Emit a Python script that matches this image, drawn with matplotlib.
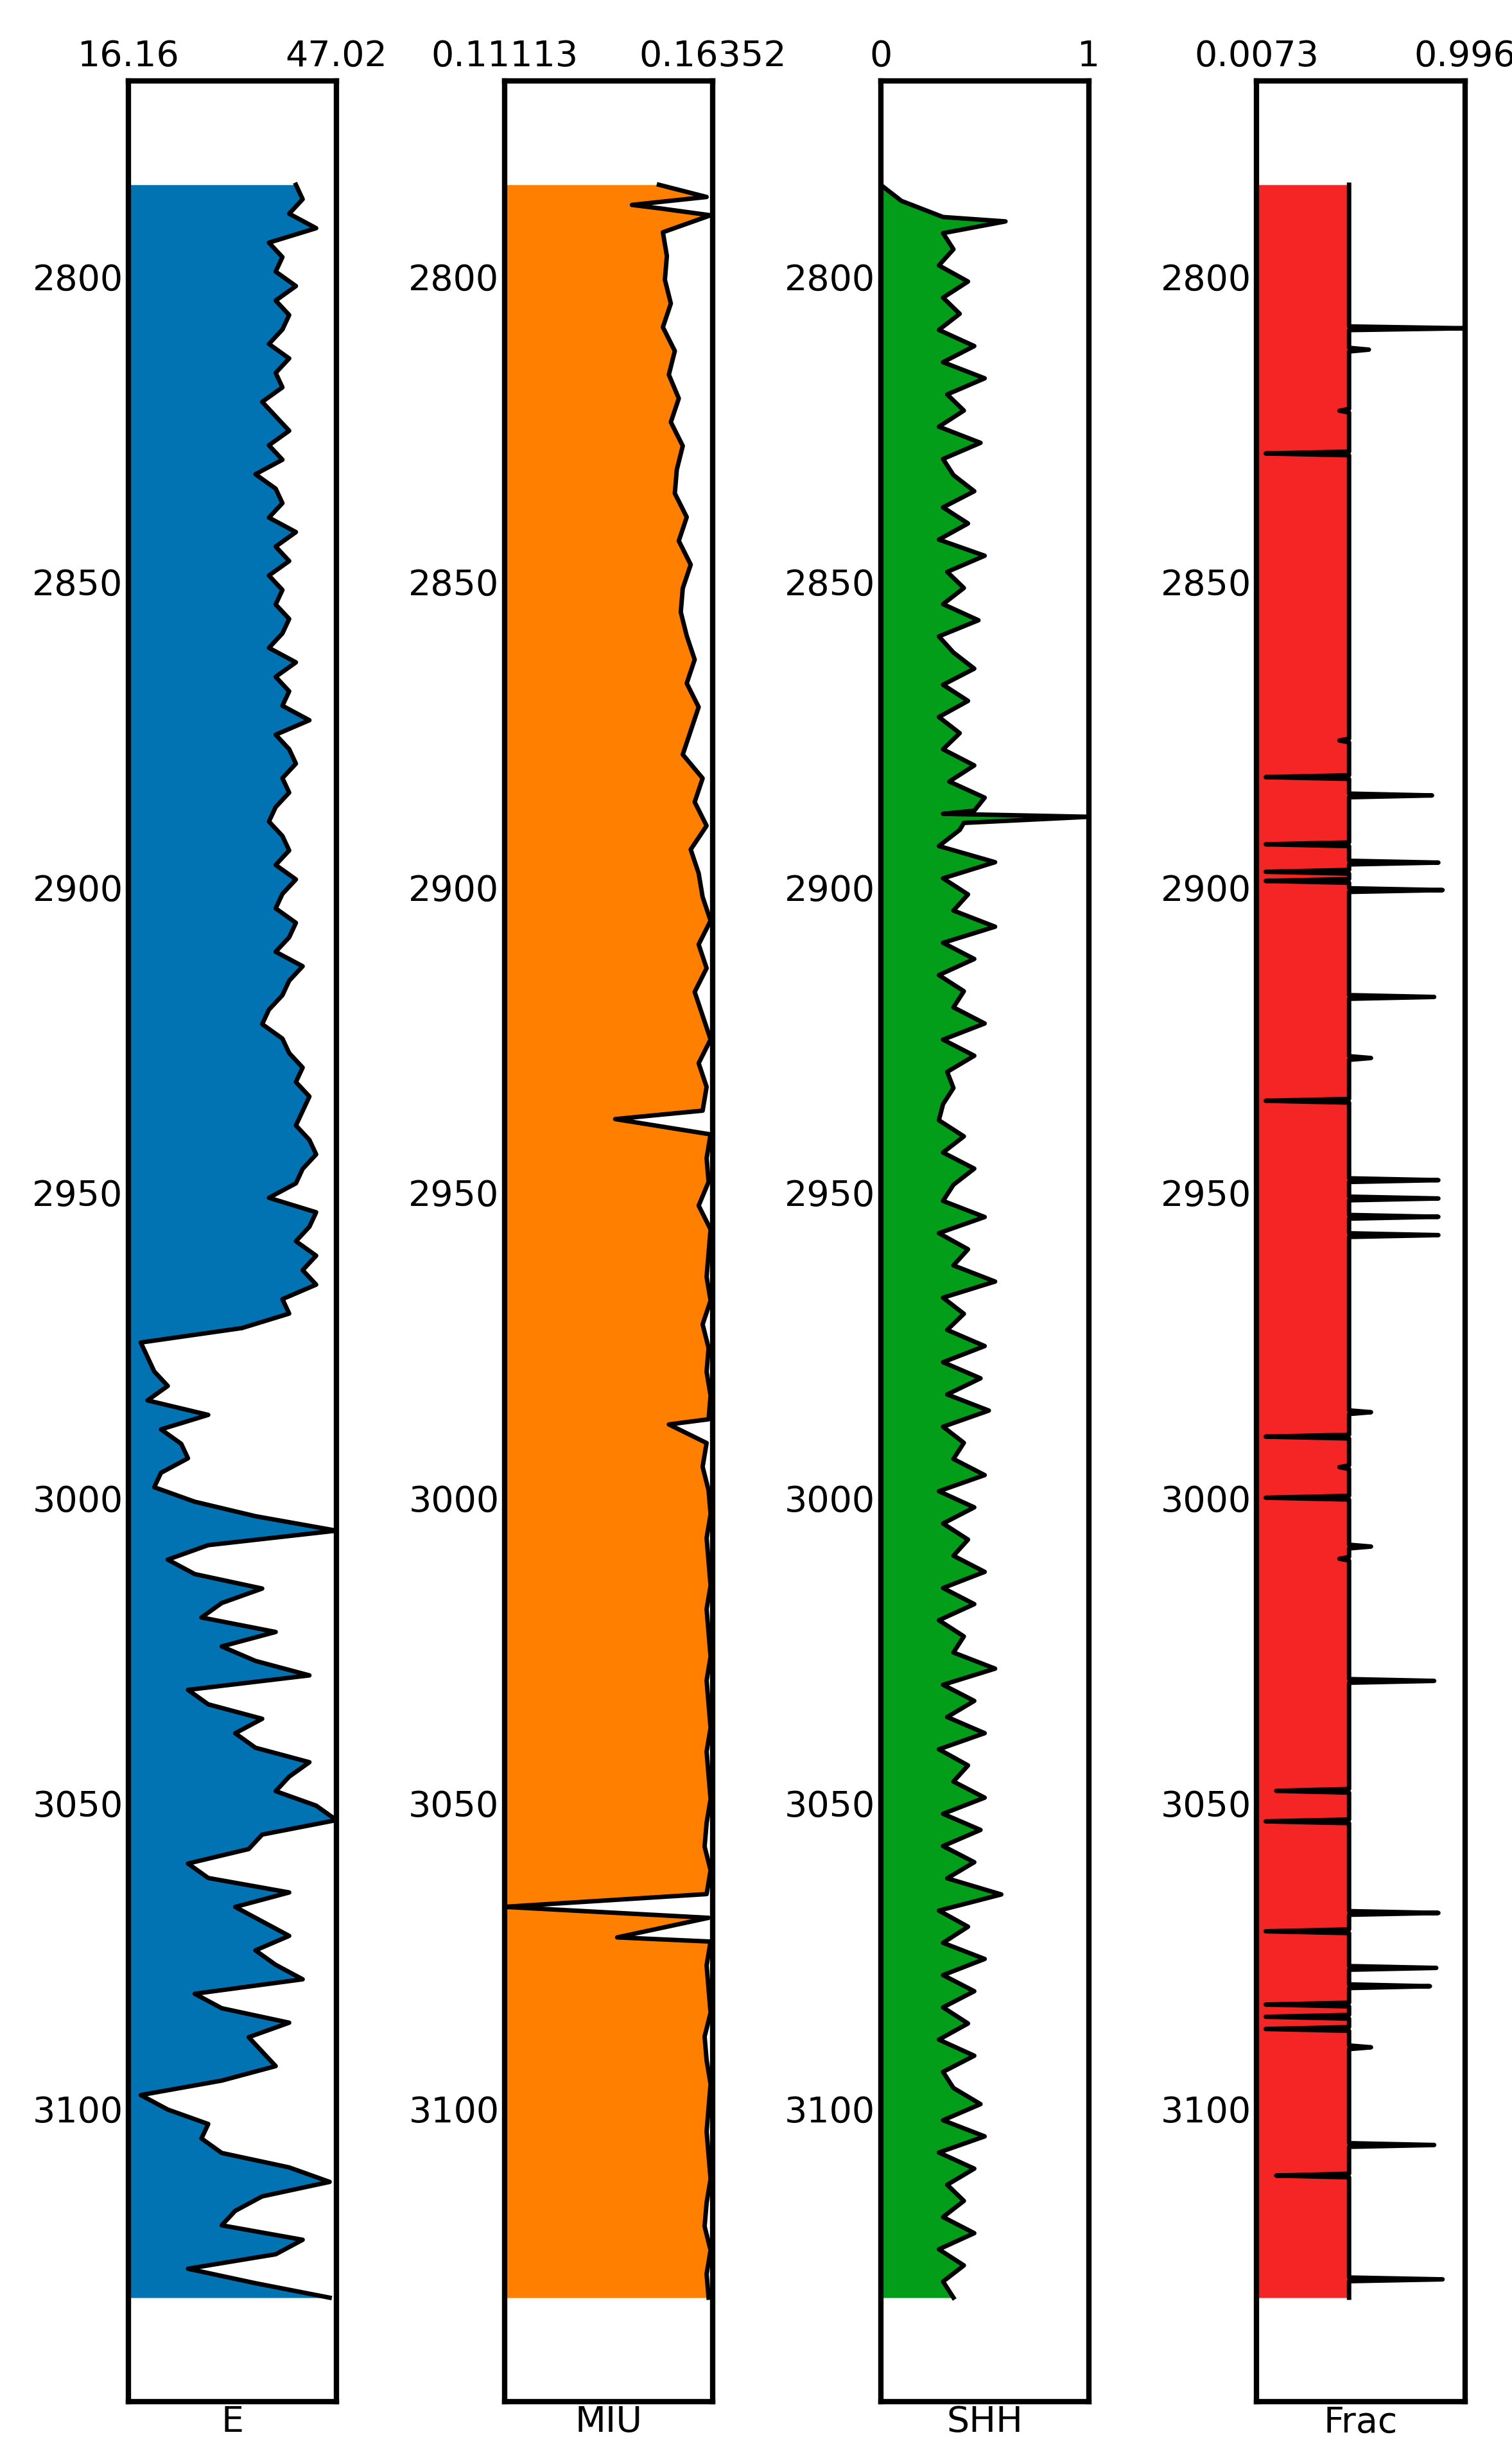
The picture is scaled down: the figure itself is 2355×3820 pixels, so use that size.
import numpy as np
import matplotlib
matplotlib.use("Agg")
import matplotlib.pyplot as plt

top_depth, bot_depth = 2785, 3131

E = [41,42,40,44,37,39,38,41,38,40,39,37,40,38,39,36,38,40,37,39,35,38,39,37,41,38,40,37,39,38,
     40,39,37,41,38,40,39,43,38,40,41,39,40,38,37,39,40,38,41,39,38,41,40,38,42,40,39,37,36,39,
     40,42,41,43,42,41,43,44,42,41,37,44,43,41,44,42,44,39,40,33,18,19,20,22,19,28,21,24,25,21,
     20,26,35,47,28,22,26,36,30,27,38,30,35,43,25,28,36,32,35,43,40,38,44,47,36,34,25,28,40,32,
     36,40,35,38,42,26,30,40,34,36,38,30,18,22,28,27,30,40,46,36,32,30,42,38,25,35,46]

MIU_base = [0.150,0.1505,0.151,0.152,0.1515,0.153,0.151,0.154,0.1525,0.155,0.153,0.156,0.1545,0.154,0.157,
            0.155,0.158,0.156,0.1555,0.157,0.159,0.157,0.160,0.158,0.156,0.161,0.159,0.162,0.158,0.160,
            0.161,0.163,0.160,0.162,0.159,0.161,0.163,0.160,0.162,0.161,0.163,0.162,0.1625,0.160,0.163,
            0.1625,0.162,0.163,0.161,0.1625,0.162,0.163,0.1625,0.162,0.161,0.1625,0.163,0.162,0.1625,0.163,
            0.162,0.1625,0.163,0.162,0.1625,0.163,0.162,0.1625,0.163,0.162,0.1615,0.163,0.162,0.1625,0.163,
            0.162,0.1625,0.163,0.1615,0.162,0.163,0.1625,0.162,0.1625,0.163,0.162,0.1615,0.163,0.162,0.1625]
MIU_spike_depth = [2787.0, 2788.3, 2790.0, 2938.0, 2988.0, 3067.0, 3072.0]
MIU_spike_val = [0.1620, 0.1432, 0.1630, 0.1390, 0.1525, 0.1111, 0.1395]

SHH = [0.0,0.1,0.3,0.3,0.35,0.28,0.42,0.3,0.38,0.28,0.45,0.3,0.5,0.32,0.4,0.28,0.48,0.3,0.35,0.45,
       0.3,0.42,0.28,0.5,0.32,0.4,0.3,0.47,0.28,0.35,0.45,0.3,0.42,0.28,0.38,0.3,0.45,0.33,0.5,0.3,
       0.38,0.28,0.55,0.3,0.42,0.35,0.55,0.3,0.45,0.28,0.4,0.35,0.5,0.3,0.45,0.32,0.35,0.3,0.28,0.4,
       0.3,0.45,0.35,0.3,0.5,0.28,0.42,0.35,0.55,0.3,0.4,0.32,0.5,0.3,0.48,0.32,0.52,0.3,0.4,0.35,
       0.5,0.28,0.45,0.3,0.42,0.35,0.5,0.3,0.45,0.28,0.4,0.35,0.55,0.3,0.45,0.32,0.5,0.28,0.42,0.35,
       0.5,0.3,0.48,0.3,0.45,0.32,0.58,0.28,0.42,0.3,0.5,0.3,0.45,0.3,0.42,0.28,0.45,0.3,0.35,0.48,
       0.3,0.5,0.28,0.45,0.32,0.4,0.3,0.45,0.28,0.4,0.3,0.35]
SHH_spike_depth = [2791.0, 2887.5, 2888.5, 2889.5]
SHH_spike_val = [0.60, 0.45, 1.0, 0.4]

FRAC_base = 0.446
FRAC_spike_depth = [2808.5, 2812, 2822, 2829, 2876, 2882, 2885, 2893, 2896, 2897.5, 2899, 2900.5, 2918,
                    2928, 2935, 2948, 2951, 2954, 2957, 2986, 2990, 2995, 3000, 3008, 3010, 3030,
                    3048, 3053, 3068, 3071, 3077, 3080, 3083, 3085, 3087, 3090, 3106, 3111, 3128]
FRAC_spike_val = [0.996, 0.54, 0.40, 0.05, 0.40, 0.05, 0.84, 0.05, 0.87, 0.05, 0.05, 0.89, 0.85,
                  0.55, 0.05, 0.87, 0.87, 0.87, 0.87, 0.55, 0.05, 0.40, 0.05, 0.55, 0.40, 0.85,
                  0.10, 0.05, 0.87, 0.05, 0.86, 0.83, 0.05, 0.05, 0.05, 0.55, 0.85, 0.10, 0.89]

names = ["E", "MIU", "SHH", "Frac"]
lims = [(16.16, 47.02), (0.11113, 0.16352), (0, 1), (0.0073, 0.996)]
limlabels = [("16.16", "47.02"), ("0.11113", "0.16352"), ("0", "1"), ("0.0073", "0.996")]
colors = ["#0173b2", "#ff7f00", "#029e1a", "#f52525"]

def merged(base, sd, sv):
    d = np.concatenate([np.linspace(top_depth, bot_depth, len(base)), sd])
    v = np.concatenate([base, sv])
    o = np.argsort(d)
    return d[o], v[o]

def series(i):
    if i == 0:
        return np.linspace(top_depth, bot_depth, len(E)), np.array(E, float)
    if i == 1:
        return merged(MIU_base, MIU_spike_depth, MIU_spike_val)
    if i == 2:
        return merged(SHH, SHH_spike_depth, SHH_spike_val)
    d, v = [top_depth], [FRAC_base]
    for sd, sv in zip(FRAC_spike_depth, FRAC_spike_val):
        d += [sd - 0.3, sd, sd + 0.3]
        v += [FRAC_base, sv, FRAC_base]
    d.append(bot_depth); v.append(FRAC_base)
    return np.array(d), np.array(v)

W = 966.0
fig = plt.figure(figsize=(23.55, 38.2), dpi=100)
for i in range(4):
    left = (82 + 240.3 * i) / W
    ax = fig.add_axes([left, 0.021, 133 / W, 0.946])
    d, v = series(i)
    ax.fill_betweenx(d, lims[i][0], v, color=colors[i], lw=0)
    ax.plot(v, d, color="black", lw=5)
    ax.set_xlim(*lims[i])
    ax.set_ylim(3148, 2768)
    ax.set_yticks([2800, 2850, 2900, 2950, 3000, 3050, 3100])
    ax.xaxis.tick_top()
    ax.set_xticks(lims[i])
    ax.set_xticklabels(limlabels[i])
    ax.tick_params(length=0, labelsize=40, pad=8)
    ax.tick_params(axis="y", pad=6)
    ax.set_xlabel(names[i], fontsize=40, labelpad=4)
    for s in ax.spines.values():
        s.set_linewidth(6)
fig.savefig("out.png", dpi=100)
